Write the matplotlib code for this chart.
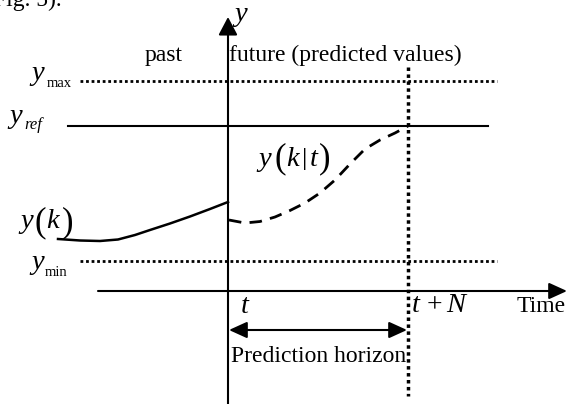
import numpy as np
import matplotlib.pyplot as plt

plt.rcParams['font.family'] = ['Liberation Serif', 'DejaVu Serif']
plt.rcParams['mathtext.fontset'] = 'custom'
plt.rcParams['mathtext.rm'] = 'Liberation Serif'
plt.rcParams['mathtext.it'] = 'Liberation Serif:italic'

# schematic levels (image pixel units, y grows downward)
t_now = 228
t_end = 408
y_max = 81
y_ref = 126
y_min = 261
time_axis = 291
horizon_y = 330

# measured output y(k) (past)
past_x = [58, 80, 100, 118, 135, 150, 170, 190, 210, 228]
past_y = [239, 240.5, 241, 239.5, 235, 230, 223.5, 216.5, 209, 202]

# predicted output y(k|t) (future)
pred_x = [229, 245, 260, 275, 290, 305, 320, 335, 350, 365, 380, 395, 408]
pred_y = [220, 223, 221.5, 217, 210.5, 203, 193, 180, 164, 149, 140, 133, 126]

fig = plt.figure(figsize=(5.68, 4.04), dpi=100)
ax = fig.add_axes([0, 0, 1, 1])
ax.set_xlim(0, 568)
ax.set_ylim(404, 0)
ax.axis('off')

# y axis and time axis
ax.annotate('', xy=(t_now, 17), xytext=(t_now, 405),
            arrowprops=dict(arrowstyle='-|>,head_length=1.1,head_width=0.58',
                            mutation_scale=10, lw=1.5, color='k', shrinkA=0, shrinkB=0))
ax.annotate('', xy=(567, time_axis), xytext=(98, time_axis),
            arrowprops=dict(arrowstyle='-|>,head_length=1.1,head_width=0.5',
                            mutation_scale=10, lw=1.5, color='k', shrinkA=0, shrinkB=0))

# limits and reference
ax.plot([80, 497], [y_max, y_max], color='k', lw=2, linestyle=(0, (1, 1)))
ax.plot([80, 497], [y_min, y_min], color='k', lw=2, linestyle=(0, (1, 1)))
ax.plot([68, 488], [y_ref, y_ref], color='k', lw=1.5)
ax.plot([t_end, t_end], [67, 396], color='k', lw=2.5, linestyle=(0, (1, 1)))

# curves
ax.plot(past_x, past_y, color='k', lw=1.8)
ax.plot(pred_x, pred_y, color='k', lw=2, linestyle=(0, (4.5, 3)))

# prediction horizon
ax.annotate('', xy=(229, horizon_y), xytext=(407, horizon_y),
            arrowprops=dict(arrowstyle='<|-|>,head_length=1.1,head_width=0.5',
                            mutation_scale=10, lw=1.5, color='k', shrinkA=0, shrinkB=0))


def pieces(items, base):
    # items: (text, x, size, italic)
    for s, x, size, it in items:
        ax.text(x, base, s, fontsize=size, ha='left', va='baseline',
                style='italic' if it else 'normal')


def paren(s, x, yc, size=25):
    ax.text(x, yc, s, fontsize=size, ha='left', va='center')


fs = 17
fi = 20.5
ax.text(62, 6, 'Fig. 5).', fontsize=fs, ha='right', va='baseline')
ax.text(164, 61, 'past', fontsize=fs, ha='center', va='baseline')
ax.text(229, 61, 'future (predicted values)', fontsize=fs, ha='left', va='baseline')
ax.text(517, 312, 'Time', fontsize=fs, ha='left', va='baseline')
ax.text(231, 362, 'Prediction horizon', fontsize=fs, ha='left', va='baseline')

pieces([('y', 234, fi, True)], 21)
pieces([('y', 31, fi, True)], 80)
pieces([('max', 47, 10.5, False)], 87)
pieces([('y', 9, fi, True)], 123)
pieces([('ref', 24, 12, True)], 129)
pieces([('y', 31, fi, True)], 269)
pieces([('min', 45, 10.5, False)], 276)
pieces([('t', 241, fi, True)], 313)
pieces([('t', 412, fi, True), ('+', 427, 20, False), ('N', 446, fi, True)], 312)

# y(k)
pieces([('y', 20, fi, True), ('k', 46, fi, True)], 228)
paren('(', 35, 223)
paren(')', 62, 223)

# y(k|t)
pieces([('y', 258, fi, True), ('k', 286, fi, True), ('t', 310, fi, True)], 166)
ax.text(302, 159, '|', fontsize=19, ha='left', va='center')
paren('(', 274, 159)
paren(')', 319, 159)

fig.savefig('out.png', dpi=100)
